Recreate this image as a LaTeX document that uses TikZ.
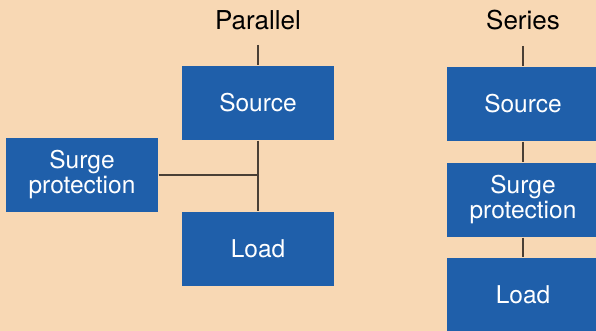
\documentclass[tikz,border=0pt]{standalone}
\usepackage{fontspec}
\setmainfont{TeX Gyre Heros}
\definecolor{peach}{HTML}{F8D8B4}
\definecolor{boxblue}{HTML}{1F5FAA}
\definecolor{wire}{HTML}{4A3F35}
\begin{document}
\begin{tikzpicture}[x=1pt,y=1pt,line width=1.2pt]
  \tikzstyle{block}=[fill=boxblue,text=white,rectangle,inner sep=0pt,minimum width=152pt,minimum height=74pt,align=center,font=\fontsize{24.5}{25}\selectfont]
  \tikzstyle{heading}=[text=black,font=\fontsize{26}{28}\selectfont]
  \def\xp{258}	% centre of parallel column
  \def\xs{523}	% centre of series column
  \fill[peach] (0,0) rectangle (596,-331);
  \useasboundingbox (0,0) rectangle (596,-331);
  \clip (0,0) rectangle (596,-331);

  % parallel
  \node[heading] (ptitle) at (\xp,-20) {Parallel};
  \coordinate (ptop) at (\xp,-45);
  \node[block] (psrc) at (\xp,-103) {Source};
  \node[block] (psurge) at (82,-175) {Surge\\protection};
  \node[block] (pload) at (\xp,-249) {Load};
  \draw[wire] (ptop) -- (psrc.north);
  \draw[wire] (psrc.south) -- (pload.north);
  \draw[wire] (psurge.east) -- (psurge.east -| psrc.south);

  % series
  \node[heading] (stitle) at (\xs,-20) {Series};
  \coordinate (stop) at (\xs,-46);
  \node[block] (ssrc) at (\xs,-104) {Source};
  \node[block] (ssurge) at (\xs,-200) {Surge\\protection};
  \node[block] (sload) at (\xs,-295) {Load};
  \draw[wire] (stop) -- (ssrc.north);
  \draw[wire] (ssrc.south) -- (ssurge.north);
  \draw[wire] (ssurge.south) -- (sload.north);
\end{tikzpicture}
\end{document}
